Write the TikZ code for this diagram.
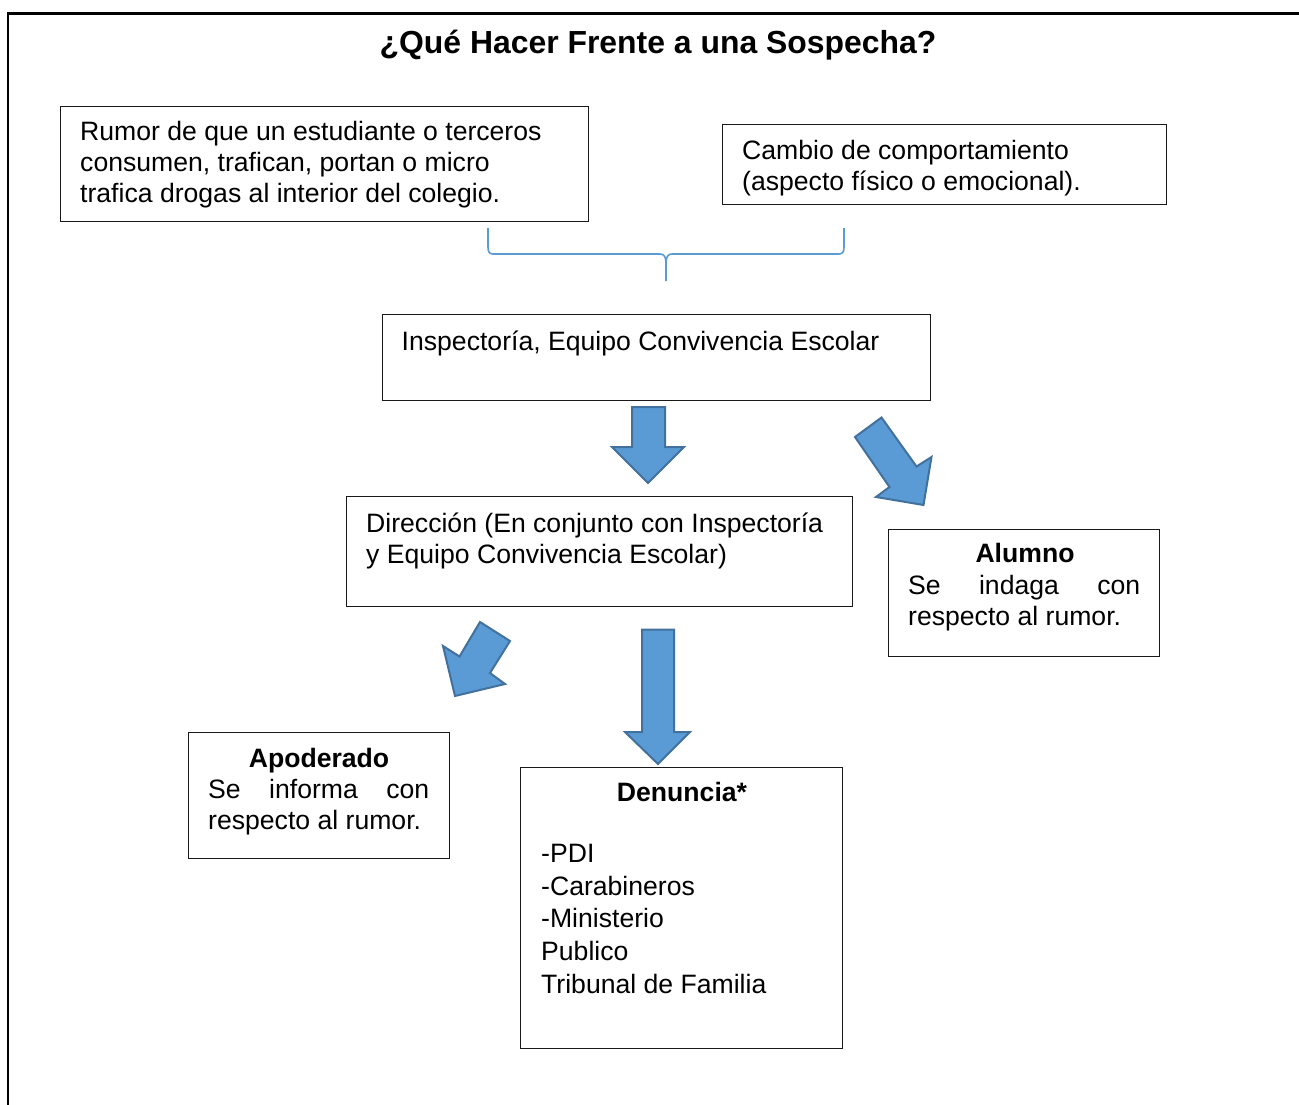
\documentclass[tikz,border=0pt]{standalone}
\usepackage{fontspec}
\setmainfont{Liberation Sans}
\begin{document}
\begin{tikzpicture}[x=1pt,y=-1pt,
  box/.style={draw=black!90, line width=1.2pt, rectangle, anchor=north west, inner sep=0pt},
  txt/.style={inner sep=0pt, anchor=base west, font=\fontsize{26.6}{31}\selectfont},
  hd/.style={inner sep=0pt, anchor=base, font=\fontsize{26.6}{31}\selectfont\bfseries},
  blockarrow/.style={fill=arrowfill, draw=arrowline, line width=2pt, line join=miter},
  bracestyle/.style={draw=arrowfill, line width=1.6pt}
]
\definecolor{arrowfill}{HTML}{5B9BD5}
\definecolor{arrowline}{HTML}{41719C}
\useasboundingbox (0,0) rectangle (1299,1105);
% outer frame (top and left edges visible)
\draw[line width=2.4pt] (8,1106) -- (8,13.5) -- (1300,13.5);

% title
\node[inner sep=0pt, anchor=base, font=\fontsize{31.9}{36}\selectfont\bfseries] (title) at (658,53.5) {¿Qué Hacer Frente a una Sospecha?};

% boxes
\node[box, minimum width=528pt, minimum height=115pt] (rumor) at (60,106) {};
\node[txt] (rumorT) at (80,141) {\vtop{\hbox{Rumor de que un estudiante o terceros}\hbox{consumen, trafican, portan o micro}\hbox{trafica drogas al interior del colegio.}}};

\node[box, minimum width=444pt, minimum height=80pt] (cambio) at (722,124) {};
\node[txt] (cambioT) at (742,159.5) {\vtop{\hbox{Cambio de comportamiento}\hbox{(aspecto físico o emocional).}}};

\node[box, minimum width=548pt, minimum height=86pt] (insp) at (382,314) {};
\node[txt] (inspT) at (401.5,350) {Inspectoría, Equipo Convivencia Escolar};

\node[box, minimum width=506pt, minimum height=110pt] (dir) at (346,496) {};
\node[txt] (dirT) at (366,532) {\vtop{\hbox{Dirección (En conjunto con Inspectoría}\hbox{y Equipo Convivencia Escolar)}}};

\node[box, minimum width=271pt, minimum height=127pt] (alumno) at (888,528.5) {};
\node[hd] (alumnoH) at (1025,562.5) {Alumno};
\node[txt] (alumnoT) at (908,594) {\vtop{\hbox to 232pt{Se\hfill indaga\hfill con}\hbox{respecto al rumor.}}};

\node[box, minimum width=261pt, minimum height=126pt] (apod) at (188,732) {};
\node[hd] (apodH) at (319,767) {Apoderado};
\node[txt] (apodT) at (208,798.5) {\vtop{\hbox to 221pt{Se\hfill informa\hfill con}\hbox{respecto al rumor.}}};

\node[box, minimum width=322pt, minimum height=281pt] (den) at (520,766.5) {};
\node[hd] (denH) at (682,801) {Denuncia*};
\node[txt, font=\fontsize{26.6}{32.7}\selectfont] (denT) at (541,862.5) {\vtop{\hbox{-PDI}\hbox{-Carabineros}\hbox{-Ministerio}\hbox{Publico}\hbox{Tribunal de Familia}}};

% brace below the two top boxes
\draw[bracestyle] (488,228) -- (488,247) .. controls (488,252) and (489.5,254) .. (493,254)
  -- (660,254) .. controls (664.5,254) and (666,257) .. (666,264) -- (666,281);
\draw[bracestyle] (844,228) -- (844,247) .. controls (844,252) and (842.5,254) .. (839,254)
  -- (672,254) .. controls (667.5,254) and (666,257) .. (666,264);

% block arrows
\draw[blockarrow] (632,407) -- (665,407) -- (665,447) -- (684,447) -- (648,483) -- (612,447) -- (632,447) -- cycle;
\draw[blockarrow] (855,437) -- (881.5,417.5) -- (916.5,466.5) -- (931.5,457) -- (923.5,505) -- (876,497) -- (889.5,487) -- cycle;
\draw[blockarrow] (480,622) -- (510,641) -- (490,673) -- (505,684) -- (455,696) -- (443,646) -- (459.5,656.5) -- cycle;
\draw[blockarrow] (642,629.5) -- (674,629.5) -- (674,732) -- (690,732) -- (658,764) -- (625,732) -- (642,732) -- cycle;
\end{tikzpicture}
\end{document}
